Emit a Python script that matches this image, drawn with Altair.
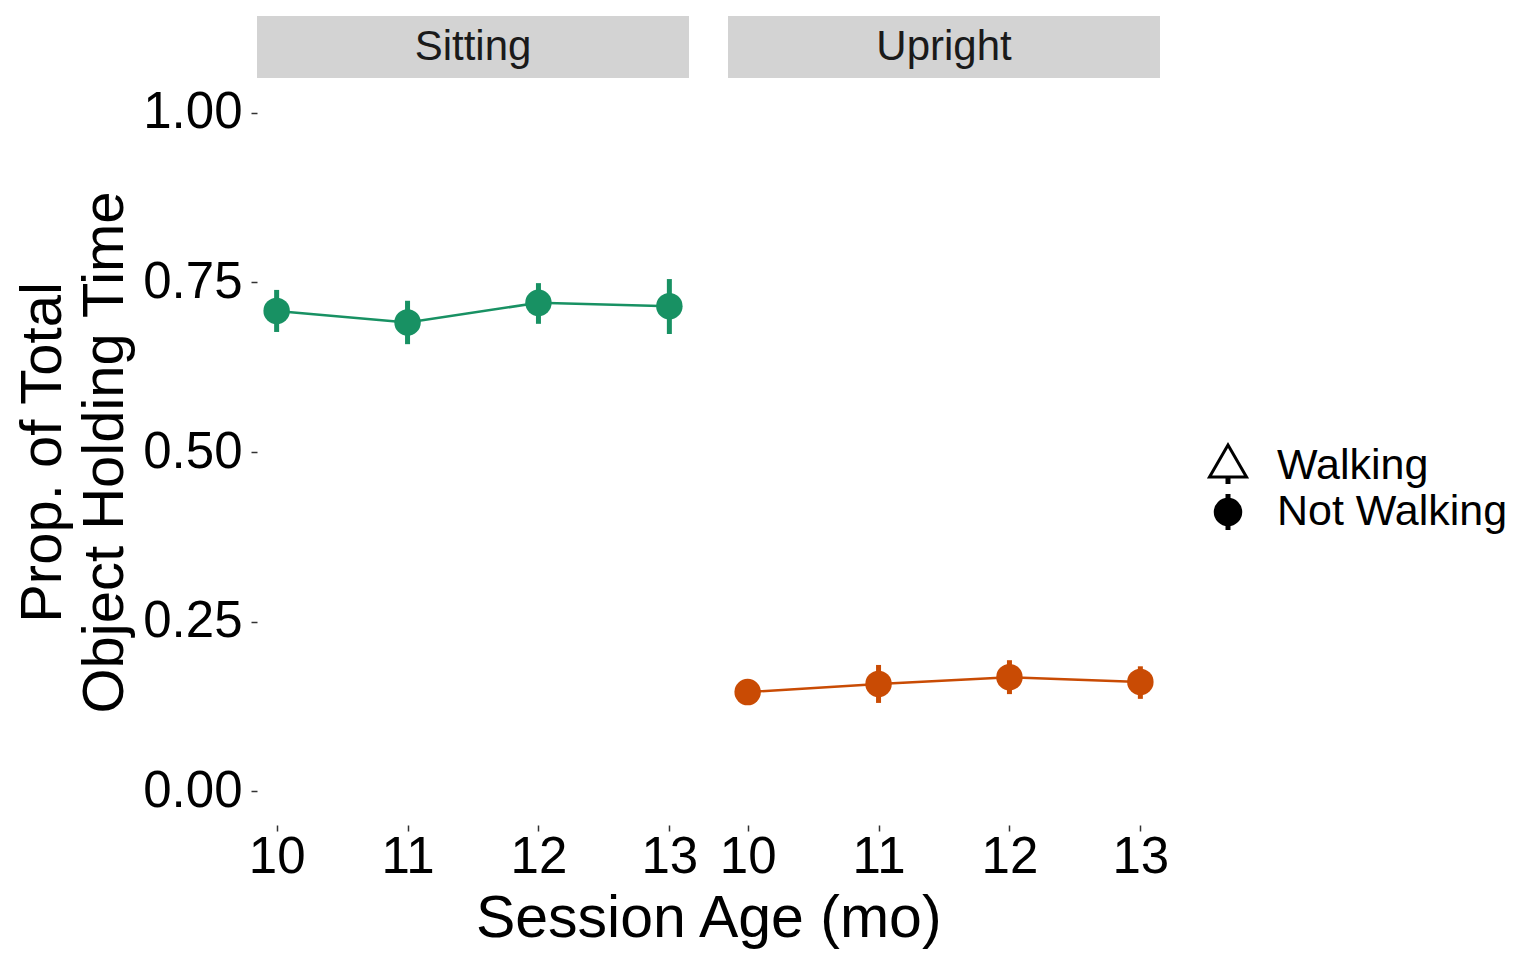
import altair as alt
import pandas as pd

FONT = "Liberation Sans"

ages = [10, 11, 12, 13]
sitting_mean = [0.708, 0.691, 0.720, 0.715]
sitting_lo = [0.677, 0.659, 0.689, 0.674]
sitting_hi = [0.739, 0.723, 0.749, 0.755]
upright_mean = [0.146, 0.158, 0.168, 0.161]
upright_lo = [0.134, 0.130, 0.143, 0.136]
upright_hi = [0.159, 0.186, 0.193, 0.184]

panel_names = ["Sitting", "Upright"]
panel_colors = ["#189163", "#c94b04"]

y_ticks = [0, 0.25, 0.5, 0.75, 1.0]
y_title = ["Prop. of Total", "Object Holding Time"]
x_title = "Session Age (mo)"

legend_labels = ["Walking", "Not Walking"]
legend_shapes = ["M0,-1.135L1,0.595L-1,0.595Z", "circle"]
legend_fills = ["white", "black"]
legend_sizes = [1369, 650]

PW, PH, SH = 432, 746, 62


def make_panel(name, color, mean, lo, hi, show_y):
    df = pd.DataFrame({"age": ages, "mean": mean, "lo": lo, "hi": hi})
    xs = alt.Scale(domain=[9.85, 13.15], nice=False, zero=False)
    ys = alt.Scale(domain=[-0.05, 1.05], nice=False, zero=False)
    xa = alt.Axis(values=ages, format="d", title=None, domain=False, grid=False,
                  tickSize=6, tickWidth=1.5, tickColor="#333333",
                  labelFontSize=51, labelPadding=1, labelColor="black", labelFont=FONT)
    if show_y:
        ya = alt.Axis(values=y_ticks, format=".2f", title=y_title, domain=False, grid=False,
                      tickSize=6, tickWidth=1.5, tickColor="#333333",
                      labelFontSize=51, labelPadding=9, labelColor="black", labelFont=FONT,
                      titleFontSize=58, titleLineHeight=62, titlePadding=8,
                      titleColor="black", titleFontWeight="normal", titleFont=FONT)
    else:
        ya = None
    base = alt.Chart(df)
    x = alt.X("age:Q", scale=xs, axis=xa)
    line = base.mark_line(color=color, strokeWidth=2.5).encode(
        x=x, y=alt.Y("mean:Q", scale=ys, axis=ya))
    rule = base.mark_rule(color=color, strokeWidth=5).encode(
        x=x, y=alt.Y("lo:Q", scale=ys, axis=ya), y2="hi:Q")
    pts = base.mark_point(filled=True, color=color, size=700, opacity=1).encode(
        x=x, y=alt.Y("mean:Q", scale=ys, axis=ya))
    plot = alt.layer(line, rule, pts).properties(width=PW, height=PH)

    sdf = pd.DataFrame({"panel": [name]})
    sx = alt.X("panel:N", axis=None, scale=alt.Scale(paddingInner=0, paddingOuter=0))
    sy = alt.Y("panel:N", axis=None, scale=alt.Scale(paddingInner=0, paddingOuter=0))
    srect = alt.Chart(sdf).mark_rect(color="#d3d3d3").encode(x=sx, y=sy)
    stext = alt.Chart(sdf).mark_text(fontSize=42, font=FONT, color="#1a1a1a").encode(
        x=sx, y=sy, text="panel:N")
    strip = alt.layer(srect, stext).properties(width=PW, height=SH)
    return alt.vconcat(strip, plot, spacing=1)


p1 = make_panel(panel_names[0], panel_colors[0], sitting_mean, sitting_lo, sitting_hi, True)
p2 = make_panel(panel_names[1], panel_colors[1], upright_mean, upright_lo, upright_hi, False)

panels = alt.hconcat(p1, p2, spacing=21).properties(
    title=alt.TitleParams(x_title, orient="bottom", anchor="middle", fontSize=59,
                          font=FONT, color="black", fontWeight="normal", offset=8, dx=117)
)

ldf = pd.DataFrame({"label": legend_labels})
LH = SH + 1 + PH
yl = alt.Y("label:N", sort=legend_labels, axis=None,
           scale=alt.Scale(type="point", padding=0, range=[450, 496]))
stub = alt.Chart(ldf).mark_point(shape="M0,-1L0,1", size=1296, strokeWidth=5,
                                 color="black", filled=False, opacity=1).encode(
    y=yl, x=alt.value(5))
sym = alt.Chart(ldf).mark_point(strokeWidth=3, stroke="black", opacity=1, fillOpacity=1).encode(
    y=yl, x=alt.value(5),
    shape=alt.Shape("label:N", scale=alt.Scale(domain=legend_labels, range=legend_shapes), legend=None),
    fill=alt.Fill("label:N", scale=alt.Scale(domain=legend_labels, range=legend_fills), legend=None),
    size=alt.Size("label:N", scale=alt.Scale(type="ordinal", domain=legend_labels, range=legend_sizes), legend=None),
)
ltext = alt.Chart(ldf).mark_text(align="left", baseline="middle", fontSize=43, font=FONT,
                                 color="black").encode(
    y=yl, x=alt.value(54), text="label:N")
legend = alt.layer(stub, sym, ltext).properties(width=290, height=LH)

chart = alt.hconcat(panels, legend, spacing=34).properties(
    padding={"left": 6, "top": 8, "right": 0, "bottom": 0}
).configure(font=FONT).configure_view(strokeWidth=0, stroke="transparent")

chart.save("out.html", embed_options={"renderer": "svg", "actions": False})
